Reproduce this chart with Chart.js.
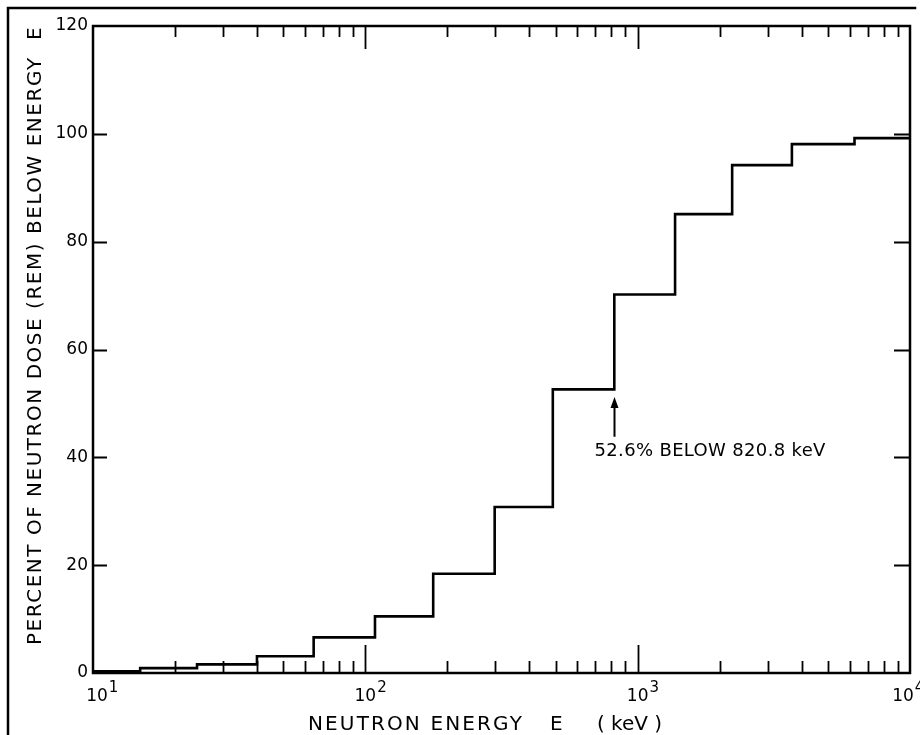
<!DOCTYPE html>
<html>
<head>
<meta charset="utf-8">
<script src="https://cdn.jsdelivr.net/npm/chart.js@4.4.1/dist/chart.umd.min.js"></script>
<style>
  html, body { margin: 0; padding: 0; background: #fff; }
  #wrap { position: relative; width: 920px; height: 735px; }
</style>
</head>
<body>
<div id="wrap"><canvas id="c" width="920" height="735"></canvas></div>
<script>
// ---- data ----
const binEdgesKeV = [10, 14.9, 24.1, 40.0, 64.6, 108.5, 177.5, 298.5, 488, 820.8, 1372, 2223, 3684, 6255, 10000];
const percentBelow = [0.3, 0.9, 1.6, 3.1, 6.6, 10.5, 18.4, 30.8, 52.6, 70.2, 85.1, 94.2, 98.1, 99.2];
const yTickValues = [0, 20, 40, 60, 80, 100, 120];
const xTickBase = ['10', '10', '10', '10'];
const xTickExponents = [1, 2, 3, 4];
const xMinorMultipliers = [2, 3, 4, 5, 6, 7, 8, 9];
const annotationEnergy = 820.8;
const annotationText = '52.6% BELOW 820.8 keV';
const xTitleParts = ['NEUTRON ENERGY', 'E', '( keV )'];
const yTitleParts = ['PERCENT OF NEUTRON DOSE (REM) BELOW ENERGY', 'E'];

// bin i spans [edge i, edge i+1] at percentBelow[i]; each point sits on a bin's right edge
const stepPoints = [{ x: binEdgesKeV[0], y: percentBelow[0] }]
  .concat(percentBelow.map((p, i) => ({ x: binEdgesKeV[i + 1], y: p })));

const FONT = '"DejaVu Sans", "Liberation Sans", sans-serif';

function fitText(ctx, text, x, y, width) {
  ctx.letterSpacing = '0px';
  const w = ctx.measureText(text).width;
  const n = [...text].length;
  const ls = n > 1 ? (width - w) / (n - 1) : 0;
  ctx.letterSpacing = ls.toFixed(2) + 'px';
  ctx.fillText(text, x, y);
  ctx.letterSpacing = '0px';
}

const decor = {
  id: 'decor',
  afterDraw(chart) {
    const { ctx, chartArea: a, scales: { x, y } } = chart;
    ctx.save();
    ctx.strokeStyle = '#000';
    ctx.fillStyle = '#000';
    ctx.lineCap = 'square';

    // outer picture frame (top and left)
    ctx.lineWidth = 2.5;
    ctx.beginPath();
    ctx.moveTo(8, 735); ctx.lineTo(8, 8); ctx.lineTo(915, 8);
    ctx.stroke();

    // plot frame
    ctx.lineWidth = 2.5;
    ctx.strokeRect(a.left, a.top, a.right - a.left, a.bottom - a.top);

    // y ticks (inward, both sides)
    ctx.lineWidth = 2;
    yTickValues.forEach(v => {
      if (v === y.min || v === y.max) return;
      const py = Math.round(y.getPixelForValue(v)) + 0.5;
      ctx.beginPath();
      ctx.moveTo(a.left, py); ctx.lineTo(a.left + 13, py);
      ctx.moveTo(a.right, py); ctx.lineTo(a.right - 15, py);
      ctx.stroke();
    });

    // x ticks (inward, bottom and top)
    ctx.lineWidth = 1.8;
    xTickExponents.forEach(e => {
      const dec = Math.pow(10, e);
      if (dec > x.min && dec < x.max) {
        const px = Math.round(x.getPixelForValue(dec)) + 0.5;
        ctx.beginPath();
        ctx.moveTo(px, a.bottom); ctx.lineTo(px, a.bottom - 27);
        ctx.moveTo(px, a.top); ctx.lineTo(px, a.top + 22);
        ctx.stroke();
      }
      if (dec >= x.max) return;
      xMinorMultipliers.forEach(m => {
        const v = m * dec;
        const px = Math.round(x.getPixelForValue(v)) + 0.5;
        ctx.beginPath();
        ctx.moveTo(px, a.bottom); ctx.lineTo(px, a.bottom - 11);
        ctx.moveTo(px, a.top); ctx.lineTo(px, a.top + 10);
        ctx.stroke();
      });
    });

    // x tick labels 10^n
    ctx.textBaseline = 'alphabetic';
    xTickExponents.forEach((e, i) => {
      let px = x.getPixelForValue(Math.pow(10, e));
      px = Math.min(Math.max(px, a.left + 4), a.right - 7);
      ctx.font = '17px ' + FONT;
      ctx.textAlign = 'center';
      const w = ctx.measureText(xTickBase[i]).width;
      ctx.fillText(xTickBase[i], px, a.bottom + 28);
      ctx.font = '15px ' + FONT;
      ctx.textAlign = 'left';
      ctx.fillText(String(e), px + w / 2 + 1, a.bottom + 19);
    });

    // x axis title
    ctx.font = '20px ' + FONT;
    ctx.textAlign = 'left';
    const tx0 = a.left + 215;
    fitText(ctx, xTitleParts[0], tx0, 730, 214);
    ctx.fillText(xTitleParts[1], tx0 + 242, 730);
    fitText(ctx, xTitleParts[2], tx0 + 289, 730, 65);

    // y axis title (rotated)
    ctx.save();
    ctx.translate(41, 0);
    ctx.rotate(-Math.PI / 2);
    ctx.font = '20px ' + FONT;
    ctx.textAlign = 'left';
    fitText(ctx, yTitleParts[0], -645, 0, 587);
    ctx.fillText(yTitleParts[1], -40, 0);
    ctx.restore();

    // annotation arrow and text
    const ax = Math.round(x.getPixelForValue(annotationEnergy)) + 0.5;
    const yTail = y.getPixelForValue(44);
    const yTip = y.getPixelForValue(51.2);
    ctx.lineWidth = 2;
    ctx.beginPath();
    ctx.moveTo(ax, yTail); ctx.lineTo(ax, yTip + 8);
    ctx.stroke();
    ctx.beginPath();
    ctx.moveTo(ax, yTip); ctx.lineTo(ax - 4, yTip + 11); ctx.lineTo(ax + 4, yTip + 11);
    ctx.closePath();
    ctx.fill();
    ctx.font = '18px ' + FONT;
    ctx.textAlign = 'left';
    fitText(ctx, annotationText, ax - 20, y.getPixelForValue(40.3), 231);

    ctx.restore();
  }
};

new Chart(document.getElementById('c'), {
  type: 'line',
  data: {
    datasets: [{
      data: stepPoints,
      stepped: 'after',
      borderColor: '#000',
      borderWidth: 2.6,
      pointRadius: 0,
      fill: false,
      tension: 0
    }]
  },
  options: {
    responsive: false,
    animation: false,
    devicePixelRatio: 1,
    layout: { padding: { left: 0, top: 26, right: 10, bottom: 0 } },
    plugins: { legend: { display: false }, tooltip: { enabled: false } },
    scales: {
      x: {
        type: 'logarithmic',
        min: 10,
        max: 10000,
        grid: { display: false, drawTicks: false },
        border: { display: false },
        ticks: { display: false },
        afterFit: s => { s.height = 62; }
      },
      y: {
        min: 0,
        max: 120,
        grid: { display: false, drawTicks: false },
        border: { display: false },
        afterBuildTicks: s => { s.ticks = yTickValues.map(v => ({ value: v })); },
        ticks: {
          color: '#000',
          padding: 5,
          font: { family: FONT, size: 17 },
          callback: v => String(v)
        },
        afterFit: s => { s.width = 93; }
      }
    }
  },
  plugins: [decor]
});
</script>
</body>
</html>
